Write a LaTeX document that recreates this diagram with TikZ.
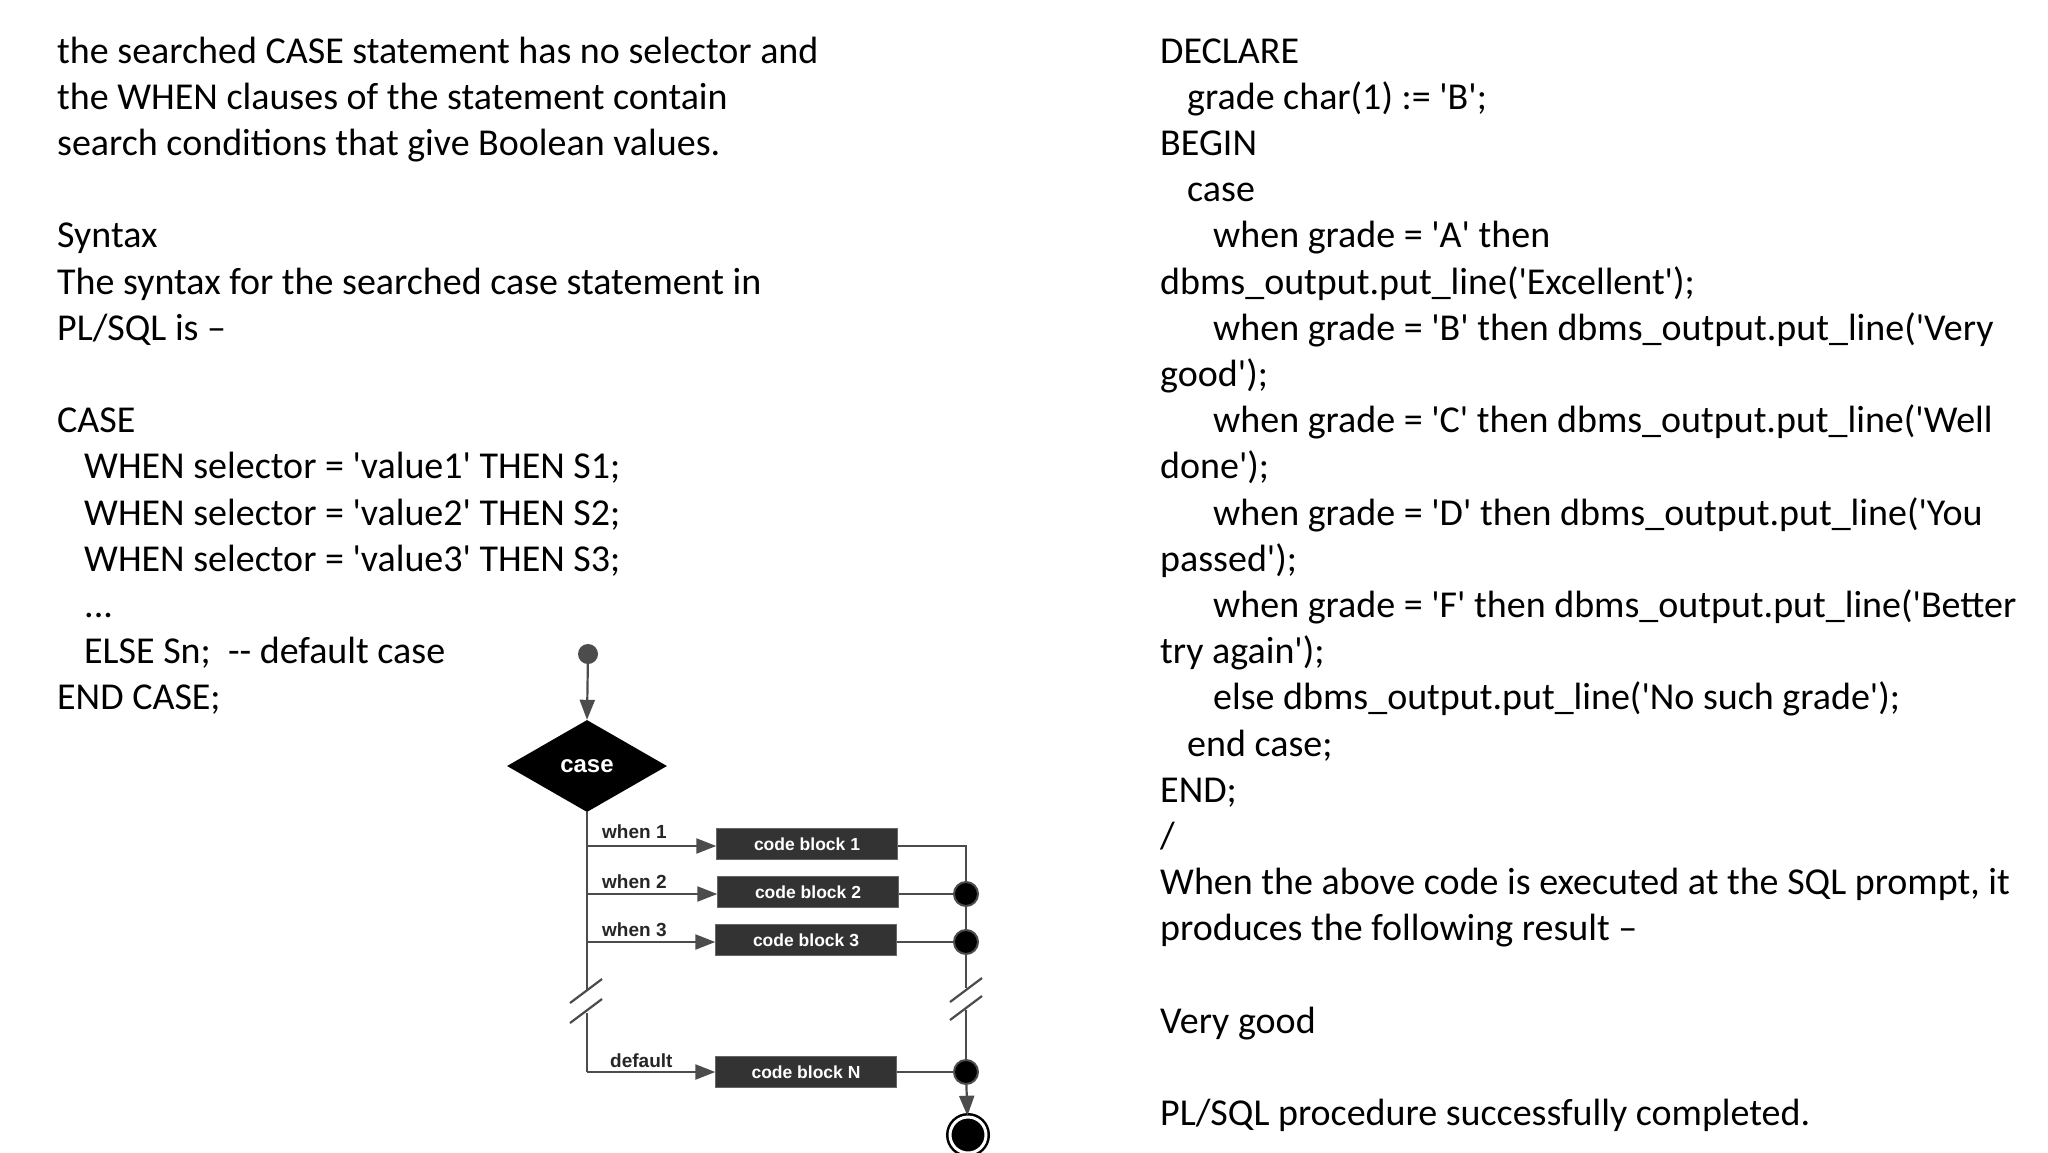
\documentclass[tikz,border=0pt]{standalone}
\usepackage{fontspec}
\setmainfont{Carlito}
\newfontfamily\fc{Liberation Sans}
\usetikzlibrary{arrows.meta,shapes.geometric}
\newcommand\q{\textquotesingle}
\begin{document}
\begin{tikzpicture}[x=1pt,y=-1pt,
  txt/.style={anchor=base west,inner sep=0,font=\fontsize{38}{46}\selectfont},
  ln/.style={draw=black!70,line width=2.2pt},
  arr/.style={ln,-{Triangle[length=20pt,width=15pt]}},
  blk/.style={fill=black!80,draw=black!60,minimum width=181pt,minimum height=31pt,inner sep=0,text=white,font=\fc\bfseries\fontsize{17.5}{17.5}\selectfont},
  lab/.style={anchor=base west,inner sep=0,font=\fc\bfseries\fontsize{19}{19}\selectfont,text=black!85},
  jn/.style={circle,fill=black,draw=black!70,line width=2pt,minimum size=24pt,inner sep=0}]
\useasboundingbox[fill=white] (0,0) rectangle (2048,1152);
% left column
\foreach \t [count=\i from 0] in {
 {the searched CASE statement has no selector and},
 {the WHEN clauses of the statement contain},
 {search conditions that give Boolean values.},
 {},
 {Syntax},
 {The syntax for the searched case statement in},
 {PL/SQL is –},
 {},
 {CASE},
 {\hspace*{27pt}WHEN selector = \q value1\q{} THEN S1;},
 {\hspace*{27pt}WHEN selector = \q value2\q{} THEN S2;},
 {\hspace*{27pt}WHEN selector = \q value3\q{} THEN S3;},
 {\hspace*{27pt}.{}.{}.},
 {\hspace*{27pt}ELSE Sn;\ \ -{}- default case},
 {END CASE;}}
 \node[txt] (l\i) at (57,{63+46.2*\i}) {\t};
% right column
\foreach \t [count=\i from 0] in {
 {DECLARE},
 {\hspace*{27pt}grade char(1) := \q B\q;},
 {BEGIN},
 {\hspace*{27pt}case},
 {\hspace*{53pt}when grade = \q A\q{} then},
 {dbms\_output.put\_line(\q Excellent\q);},
 {\hspace*{53pt}when grade = \q B\q{} then dbms\_output.put\_line(\q Very},
 {good\q);},
 {\hspace*{53pt}when grade = \q C\q{} then dbms\_output.put\_line(\q Well},
 {done\q);},
 {\hspace*{53pt}when grade = \q D\q{} then dbms\_output.put\_line(\q You},
 {passed\q);},
 {\hspace*{53pt}when grade = \q F\q{} then dbms\_output.put\_line(\q Better},
 {try again\q);},
 {\hspace*{53pt}else dbms\_output.put\_line(\q No such grade\q);},
 {\hspace*{27pt}end case;},
 {END;},
 {/},
 {When the above code is executed at the SQL prompt, it},
 {produces the following result –},
 {},
 {Very good},
 {},
 {PL/SQL procedure successfully completed.}}
 \node[txt] (r\i) at (1160,{63+46.2*\i}) {\t};
% flowchart
\node[circle,fill=black!70,minimum size=20pt,inner sep=0] (start) at (588,654) {};
\node[diamond,fill=black,minimum width=160pt,minimum height=92pt,inner sep=0,text=white,font=\fc\bfseries\fontsize{24}{24}\selectfont] (case) at (587,766) {case};
\draw[arr] (start) -- (case.north);
\node[blk] (b1) at (807,844) {code block 1};
\node[blk] (b2) at (808,892) {code block 2};
\node[blk] (b3) at (806,940) {code block 3};
\node[blk] (bN) at (806,1072) {code block N};
\coordinate (w1) at (587,846);
\coordinate (w2) at (587,894);
\coordinate (w3) at (587,942);
\coordinate (wN) at (587,1072);
\coordinate (g1) at (587,990);
\coordinate (g2) at (587,1013);
\draw[ln] (case.south) -- (g1);
\draw[ln] (g2) -- (wN);
\draw[ln] (570,1003) -- (602,979);
\draw[ln] (570,1023) -- (602,999);
\draw[arr] (w1) -- (b1.west|-w1);
\draw[arr] (w2) -- (b2.west|-w2);
\draw[arr] (w3) -- (b3.west|-w3);
\draw[arr] (wN) -- (bN.west|-wN);
\node[lab] (t1) at (602,838) {when 1};
\node[lab] (t2) at (602,888) {when 2};
\node[lab] (t3) at (602,936) {when 3};
\node[lab] (tN) at (610,1067) {default};
\node[jn] (j2) at (966,894) {};
\node[jn] (j3) at (966,942) {};
\node[jn] (jN) at (966,1072) {};
\node[circle,fill=black,draw=black,line width=2.5pt,double=white,double distance=3pt,minimum size=36pt,inner sep=0] (end) at (968,1135) {};
\coordinate (c1) at (966,846);
\coordinate (h1) at (966,988);
\coordinate (h2) at (966,1010);
\draw[ln] (b1.east|-c1) -- (c1) -- (j2);
\draw[ln] (b2.east|-j2) -- (j2);
\draw[ln] (b3.east|-j3) -- (j3);
\draw[ln] (bN.east|-jN) -- (jN);
\draw[ln] (j2) -- (j3) -- (h1);
\draw[ln] (h2) -- (jN);
\draw[ln] (950,1002) -- (982,978);
\draw[ln] (950,1020) -- (982,996);
\draw[arr] (jN) -- (end);
\end{tikzpicture}
\end{document}
